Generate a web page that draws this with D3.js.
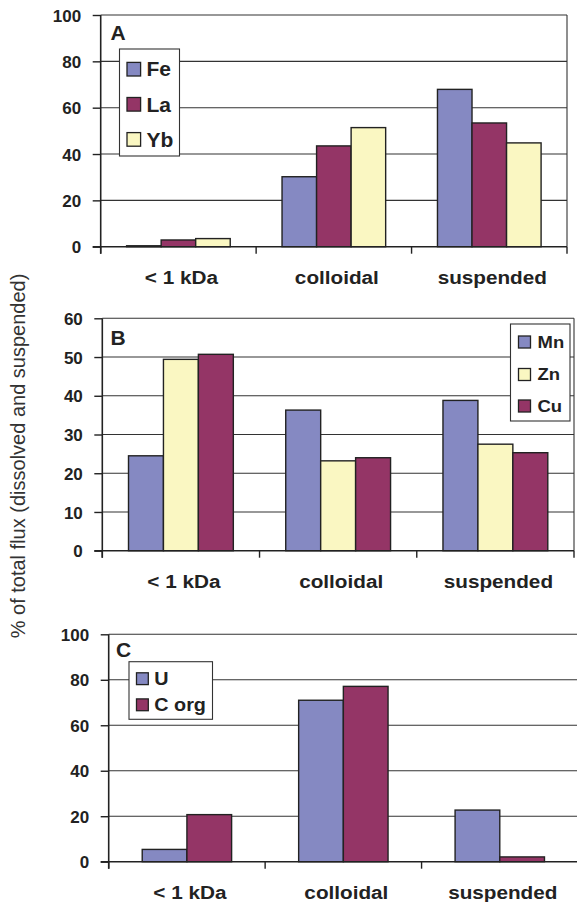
<!DOCTYPE html>
<html>
<head>
<meta charset="utf-8">
<script src="https://cdn.jsdelivr.net/npm/d3@7"></script>
<style>
  html, body { margin: 0; padding: 0; background: #fff; }
  svg { display: block; font-family: "Liberation Sans", Arial, sans-serif; }
</style>
</head>
<body>
<svg id="chart" width="577" height="902"></svg>
<script>
// Fractions of total flux per size class
const categories = ["< 1 kDa", "colloidal", "suspended"];

// Panel A
const seriesA = ["Fe", "La", "Yb"];
const feValues = [0.4, 30.2, 67.9];
const laValues = [2.9, 43.5, 53.4];
const ybValues = [3.5, 51.4, 44.8];
const ticksA = [0, 20, 40, 60, 80, 100];

// Panel B
const seriesB = ["Mn", "Zn", "Cu"];
const mnValues = [24.5, 36.3, 38.8];
const znValues = [49.4, 23.2, 27.5];
const cuValues = [50.7, 24.0, 25.3];
const ticksB = [0, 10, 20, 30, 40, 50, 60];

// Panel C
const seriesC = ["U", "C org"];
const uValues = [5.4, 71.0, 22.7];
const corgValues = [20.7, 77.1, 2.1];
const ticksC = [0, 20, 40, 60, 80, 100];

const yTitle = "% of total flux (dissolved and suspended)";

const BLUE = "#8589c2", PURPLE = "#943566", YELLOW = "#faf7c2";
const INK = "#222";

const svg = d3.select("#chart");

// Text with a slight horizontal stretch
function stretchedText(g, x, y, str, size, sx, anchor, weight) {
  return g.append("text")
    .attr("transform", `translate(${x},${y}) scale(${sx},1)`)
    .attr("text-anchor", anchor)
    .attr("font-size", size)
    .attr("font-weight", weight || "bold")
    .attr("fill", INK)
    .text(str);
}

function drawPanel(p) {
  const g = svg.append("g");
  const x = d3.scaleBand().domain(categories).range([p.left, p.right]);
  const groupW = x.bandwidth() * p.groupFrac;
  const xs = d3.scaleBand().domain(p.series).range([0, groupW]);
  const y = d3.scaleLinear().domain([0, d3.max(p.ticks)]).range([p.bottom, p.top]);

  // horizontal gridlines
  g.append("g").selectAll("line").data(p.ticks.filter(t => t > 0)).join("line")
    .attr("x1", p.left).attr("x2", p.right)
    .attr("y1", d => y(d)).attr("y2", d => y(d))
    .attr("stroke", "#333").attr("stroke-width", 1.1);

  // right frame
  g.append("line").attr("x1", p.right).attr("x2", p.right)
    .attr("y1", p.top).attr("y2", p.bottom)
    .attr("stroke", "#333").attr("stroke-width", 1.1);

  // bars
  p.series.forEach((s, si) => {
    g.append("g").selectAll("rect").data(p.values[si]).join("rect")
      .attr("x", (d, i) => x(categories[i]) + (x.bandwidth() - groupW) / 2 + xs(s))
      .attr("y", d => y(d))
      .attr("width", xs.bandwidth())
      .attr("height", d => y(0) - y(d))
      .attr("fill", p.colors[si])
      .attr("stroke", INK).attr("stroke-width", 1.4);
  });

  // y axis
  const yAxis = g.append("g").attr("transform", `translate(${p.left},0)`)
    .call(d3.axisLeft(y).tickValues(p.ticks).tickSize(8).tickFormat(d3.format("d")));
  yAxis.select(".domain").remove();
  yAxis.selectAll(".tick line").attr("stroke", INK).attr("stroke-width", 1.4);
  yAxis.selectAll(".tick text").remove();
  yAxis.selectAll(".tick").each(function (d) {
    d3.select(this).append("text")
      .attr("x", -19.5).attr("dy", "0.36em")
      .attr("text-anchor", "end")
      .attr("font-size", 17).attr("font-weight", "bold")
      .attr("fill", INK).text(d);
  });
  g.append("line").attr("x1", p.left).attr("x2", p.left)
    .attr("y1", p.top).attr("y2", p.bottom + 7)
    .attr("stroke", INK).attr("stroke-width", 1.6);

  // x axis
  g.append("line").attr("x1", p.left - 8).attr("x2", p.right)
    .attr("y1", p.bottom).attr("y2", p.bottom)
    .attr("stroke", INK).attr("stroke-width", 1.6);
  const bounds = categories.map(c => x(c)).concat([p.right]);
  g.append("g").selectAll("line").data(bounds).join("line")
    .attr("x1", d => d).attr("x2", d => d)
    .attr("y1", p.bottom).attr("y2", p.bottom + 7)
    .attr("stroke", INK).attr("stroke-width", 1.4);
  categories.forEach(c => {
    stretchedText(g, x(c) + x.bandwidth() / 2 + 3, p.bottom + 37, c, 18.5, 1.12, "middle");
  });

  // panel letter
  stretchedText(g, p.letterX, p.letterY, p.letter, 20, 1.05, "start");

  // legend
  const L = p.legend;
  g.append("rect").attr("x", L.x0).attr("y", L.y0)
    .attr("width", L.x1 - L.x0).attr("height", L.y1 - L.y0)
    .attr("fill", "#fff").attr("stroke", "#333").attr("stroke-width", 1.1);
  p.series.forEach((s, si) => {
    const cy = L.cy[si];
    g.append("rect").attr("x", L.sx).attr("y", cy - L.ss / 2)
      .attr("width", L.ss).attr("height", L.ss)
      .attr("fill", p.colors[si]).attr("stroke", INK).attr("stroke-width", 1.3);
    stretchedText(g, L.tx, cy + L.size * 0.36, s, L.size, L.sxs, "start");
  });
}

drawPanel({
  series: seriesA, values: [feValues, laValues, ybValues], colors: [BLUE, PURPLE, YELLOW],
  ticks: ticksA, left: 100.7, right: 567, top: 15, bottom: 246.7, groupFrac: 3 / 4.5,
  letter: "A", letterX: 110.5, letterY: 40,
  legend: { x0: 119.5, x1: 179.5, y0: 49, y1: 156, sx: 127, ss: 13.6, cy: [69.2, 104.3, 139.4], tx: 146.5, size: 20, sxs: 1.05 }
});

drawPanel({
  series: seriesB, values: [mnValues, znValues, cuValues], colors: [BLUE, YELLOW, PURPLE],
  ticks: ticksB, left: 102.3, right: 574, top: 318.3, bottom: 550.7, groupFrac: 3 / 4.5,
  letter: "B", letterX: 110.5, letterY: 345,
  legend: { x0: 510.5, x1: 570, y0: 324, y1: 421, sx: 518.5, ss: 12, cy: [342, 374.5, 406], tx: 537.5, size: 16.5, sxs: 1.12 }
});

drawPanel({
  series: seriesC, values: [uValues, corgValues], colors: [BLUE, PURPLE],
  ticks: ticksC, left: 108.7, right: 578, top: 634.3, bottom: 861.7, groupFrac: 2 / 3.5,
  letter: "C", letterX: 116, letterY: 656.5,
  legend: { x0: 129, x1: 212.5, y0: 661.7, y1: 719.3, sx: 136.5, ss: 11.8, cy: [678.7, 704.8], tx: 154.3, size: 18.5, sxs: 1.07 }
});

// shared y-axis title
svg.append("text")
  .attr("transform", "translate(25,456) rotate(-90)")
  .attr("text-anchor", "middle")
  .attr("font-size", 20)
  .attr("fill", "#333")
  .text(yTitle);
</script>
</body>
</html>
